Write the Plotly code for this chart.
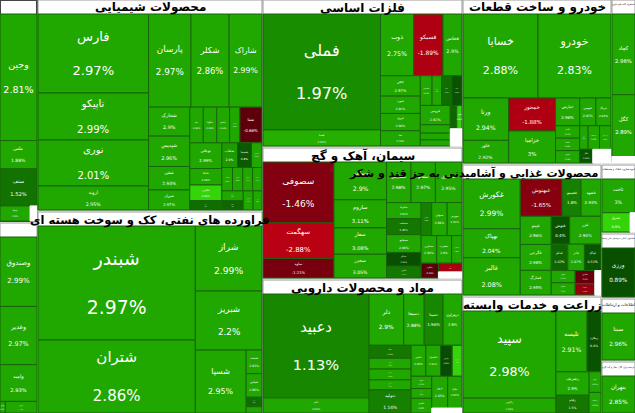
import math
import plotly.graph_objects as go

W, H = 635, 413

# ---------------- data (values ~ cell areas) ----------------
sec_a = "شرکتهای چند رشته ای صنعتی"
a_labels = ["وجین", "ملس", "ستف", "وسپا"]
a_values = [4660, 1040, 1365, 450]
a_pct = [2.81, 1.88, 1.52, 2.90]
a_close = [3.0, 3.0, 1.4, 3.0]
a_gap = 105

sec_b = "سرمایه گذاریها"
b_labels = ["وصندوق", "وغدیر", "وامید", "وبهمن", "ونیکی"]
b_values = [2516, 2109, 1332, 60, 360]
b_pct = [2.99, 2.97, 2.93, 2.95, 2.90]
b_close = [3, 3, 3, 3, 3]
b_gap = 0

sec_c = "محصولات شیمیایی"
c_labels = ["فارس", "تاپیکو", "نوری", "اروند", "پارسان", "شکلر", "شاراک", "شخارک", "شپدیس", "شفن",
            "شیران", "جم", "شگویا", "پاکشو", "شبهرن", "شفا", "بوعلی", "شاملا", "شکربن", "کرماشا",
            "شلعاب", "شسینا", "شپارس", "شصدف", "شدوص", "شرانل", "شزنگ", "شتوکا", "شپاکسا", "شفارس", "شغدیر"]
c_values = [8769, 5217, 5106, 2664, 3960, 3564, 3078, 1197, 1254, 969,
            828, 483, 483, 460, 368, 792, 828, 529, 506, 299,
            391, 345, 260, 250, 240, 230, 220, 210, 200, 190, 170]
c_pct = [2.97, 2.99, 2.01, 2.95, 2.97, 2.86, 2.99, 2.90, 2.96, 2.93,
         2.97, 2.98, 2.99, 2.94, 2.92, -0.66, 2.99, 2.98, 4.95, 1.20,
         2.90, 0.80, 2.91, 2.95, 2.88, 2.97, 2.93, 2.90, 1.10, 2.96, 2.94]
c_close = [3, 3, 3, 3, 3, 3, 3, 3, 3, 3,
           3, 3, 3, 3, 3, -0.6, 3, 3, 4.9, 1.2,
           2.6, 0.6, 3, 3, 3, 3, 3, 3, 1.0, 3, 3]
c_gap = 0

sec_d = "فلزات اساسی"
d_labels = ["فملی", "فسپا", "ذوب", "فسیکو", "فخاس", "فجر", "فنورد", "فروی", "فیبا", "فاسمین",
            "فباهنر", "فالوم", "فلوله", "فروس", "فسرب", "فسازان", "فرآور", "فکاوه", "فخوز"]
d_values = [13455, 1872, 2024, 1794, 1160, 800, 680, 680, 600, 345,
            276, 300, 300, 572, 250, 200, 180, 150, 120]
d_pct = [1.97, 2.91, 2.75, -1.89, 2.90, 2.97, 2.95, 2.96, 2.79, 2.93,
         2.98, 1.05, 0.42, 2.92, 2.90, 2.94, 2.99, 0.97, 4.90]
d_close = [2.2, 3.3, 3, -2.6, 3, 3, 3, 3, 3, 3,
           3, 1.2, 0.4, 3, 3, 3, 3, 1.0, 4.9]
d_gap = 200

sec_e = "سیمان، آهک و گچ"
e_labels = ["سصوفی", "سهگمت", "ساوه", "سباقر", "ساروم", "سفار", "سخزر", "سفارس", "سفانو", "سشرق",
            "سکرما", "سدشت", "سبجنو", "سیدکو", "سکارون", "ستران", "سبهان", "سهرمز", "سمازن", "سغرب",
            "سخاش", "سکرد", "سپاها"]
e_values = [4216, 2448, 1360, 1935, 1440, 1350, 1215, 966, 966, 1050,
            540, 540, 600, 460, 400, 340, 500, 476, 420, 400,
            280, 250, 200]
e_pct = [-1.46, -2.88, -1.21, 2.90, 3.11, 3.08, 3.05, 2.98, 2.97, 2.95,
         2.93, 1.45, 2.96, 0.31, 1.52, 1.88, 2.99, 2.92, 2.94, 2.90,
         2.95, -0.55, -2.41]
e_close = [-1.5, -2.9, -1.2, 3, 3, 3, 3, 3, 3, 3,
           3, 1.5, 3, 0.3, 1.5, 1.8, 3, 3, 3, 3,
           3, -0.5, -2.4]
e_gap = 140

sec_f = "مواد و محصولات دارویی"
f_labels = ["دعبید", "دالبر", "دلر", "دسبحا", "دسینا", "دزهراوی", "دتماد", "دکوثر", "دجابر", "دشیمی",
            "دتولید", "دامین", "دکپسول", "دپارس", "دایران", "داسوه", "دفرا", "دکیمی", "دروز", "دفارا"]
f_values = [10918, 1590, 1760, 1040, 960, 960, 540, 450, 450, 420,
            960, 450, 450, 360, 300, 250, 200, 300, 500, 450]
f_pct = [1.13, 2.94, 2.90, 2.88, 1.96, 2.80, 1.52, 2.95, 2.97, 2.93,
         1.14, 2.96, 2.91, 0.22, 4.96, 2.92, 2.98, 2.90, 2.95, 2.93]
f_close = [2.0, 3, 3, 3, 2.0, 3, 1.5, 3, 3, 3,
           1.8, 3, 3, 0.2, 4.9, 3, 3, 3, 3, 3]
f_gap = 150

sec_g = "فراورده های نفتی، کک و سوخت هسته ای"
g_labels = ["شبندر", "شتران", "شراز", "شبریز", "شسپا", "شنفت", "شپاس", "شرانل", "شاوان"]
g_values = [18012, 11534, 4355, 3953, 3216, 375, 375, 150, 100]
g_pct = [2.97, 2.86, 2.99, 2.2, 2.95, 2.93, 2.96, 1.20, 2.90]
g_close = [3, 3, 3, 3, 3, 3, 3, 1.2, 3]
g_gap = 0

sec_h = "خودرو و ساخت قطعات"
h_labels = ["خسابا", "خودرو", "ورنا", "خاور", "خمحور", "خزامیا", "خپارس", "خبهمن", "خرینگ", "خگستر",
            "خکمک", "خموتور", "خفنر", "خریخت", "خچرخش", "خکار"]
h_values = [6308, 6142, 1935, 1035, 1550, 1500, 672, 448, 420, 300,
            300, 300, 200, 270, 270, 180]
h_pct = [2.88, 2.83, 2.94, 2.92, -1.88, 3.00, 2.96, 2.95, 2.93, 2.97,
         2.94, 2.96, 2.90, 2.98, 2.95, 0.52]
h_close = [3, 3, 3, 3, -2.6, 3, 3, 3, 3, 3,
           3, 3, 3, 3, 3, 0.5]
h_gap = 250

sec_i = "محصولات غذایی و آشامیدنی به جز قند و شکر"
i_labels = ["غکورش", "بهپاک", "غالبر", "غبهنوش", "غصینو", "غشهد", "غپینو", "غگرجی", "غمارگ", "غنوش",
            "غزر", "غدام", "غاذر", "غپاک", "غشان", "غسالم", "غفارس", "غشصفا"]
i_values = [2832, 1652, 2124, 1554, 703, 740, 870, 800, 760, 510,
            870, 435, 435, 435, 290, 290, 260, 220]
i_pct = [2.99, 2.04, 2.08, -1.65, 1.80, 2.93, 2.96, 2.98, 2.95, 0.40,
         2.94, 1.02, 2.97, 0.51, 2.92, 2.90, -0.80, -2.05]
i_close = [3, 3, 3, -1.6, 1.8, 3, 3, 3, 3, 0.4,
           3, 1.0, 3, 0.5, 3, 3, -0.8, -2.0]
i_gap = 150

sec_j = "زراعت و خدمات وابسته"
j_labels = ["سپید", "زاگرس", "تلیسه", "زملارد", "زشریف", "زقیام", "زکوثر", "زدشت"]
j_values = [8272, 1410, 1932, 864, 792, 600, 250, 250]
j_pct = [2.98, 2.93, 2.91, 0.40, 2.90, 1.50, 2.95, 2.92]
j_close = [3, 3, 3, 0.4, 3, 1.5, 3, 3]
j_gap = 0

sec_k = "استخراج کانه های فلزی"
k_labels = ["کچاد", "کگل"]
k_values = [1863, 1426]
k_pct = [2.96, 2.89]
k_close = [3, 3]
k_gap = 150

sec_l = "انبوه سازی، املاک و مستغلات"
l_labels = ["ثاخت", "ثشرق"]
l_values = [1155, 561]
l_pct = [3.00, 4.90]
l_close = [3, 4.9]
l_gap = 100

sec_m = "فعالیتهای کمکی به نهادهای مالی واسط"
m_labels = ["ورزی"]
m_values = [1650]
m_pct = [0.89]
m_close = [0.3]
m_gap = 0

sec_n = "اطلاعات و ارتباطات"
n_labels = ["سینا"]
n_values = [1650]
n_pct = [2.96]
n_close = [3]
n_gap = 0

sec_o = "عرضه برق، گاز، بخار و آب گرم"
o_labels = ["بتهران"]
o_values = [1750]
o_pct = [2.85]
o_close = [3]
o_gap = 0

# ---------------- layout of sector panels (pixel boxes: left, top, right, bottom) ----------------
boxes = {
    "a": (0, 0, 37, 221), "b": (0, 223, 37, 413),
    "c": (38, 0, 262, 210), "g": (38, 212, 262, 413),
    "d": (263, 0, 462, 146), "e": (263, 148, 462, 278), "f": (263, 280, 462, 413),
    "h": (463, 0, 611, 163), "i": (463, 165, 601, 295), "j": (463, 297, 601, 413),
    "k": (612, 0, 635, 163), "l": (602, 165, 635, 232), "m": (602, 234, 635, 297),
    "n": (602, 299, 635, 360), "o": (602, 362, 635, 413),
}
HEAD = 14
# squarify aspect preference per panel (style)
ratios = {"c": 2.3, "d": 2.5, "e": 2.2, "f": 2.5, "j": 2.5}
# title style per panel: "big" = bold overlay title, "small" = plotly header text, "none" = cut off
title_mode = {"a": "none", "b": "none", "k": "small", "l": "small", "m": "small", "n": "small", "o": "small"}
title_anchor = {"i": "right"}
title_size = {"g": 11.5, "i": 11}

sectors = [
    ("a", sec_a, a_labels, a_values, a_pct, a_close, a_gap),
    ("b", sec_b, b_labels, b_values, b_pct, b_close, b_gap),
    ("c", sec_c, c_labels, c_values, c_pct, c_close, c_gap),
    ("g", sec_g, g_labels, g_values, g_pct, g_close, g_gap),
    ("d", sec_d, d_labels, d_values, d_pct, d_close, d_gap),
    ("e", sec_e, e_labels, e_values, e_pct, e_close, e_gap),
    ("f", sec_f, f_labels, f_values, f_pct, f_close, f_gap),
    ("h", sec_h, h_labels, h_values, h_pct, h_close, h_gap),
    ("j", sec_j, j_labels, j_values, j_pct, j_close, j_gap),
    ("i", sec_i, i_labels, i_values, i_pct, i_close, i_gap),
    ("k", sec_k, k_labels, k_values, k_pct, k_close, k_gap),
    ("l", sec_l, l_labels, l_values, l_pct, l_close, l_gap),
    ("m", sec_m, m_labels, m_values, m_pct, m_close, m_gap),
    ("n", sec_n, n_labels, n_values, n_pct, n_close, n_gap),
    ("o", sec_o, o_labels, o_values, o_pct, o_close, o_gap),
]

FONT = "Tahoma, 'DejaVu Sans', sans-serif"
LINE = "#17650b"
ZW = "\u200b"


def cell_color(c):
    if c >= 0:
        if c <= 3:
            t = c / 3.0
            r, g, b = 6 + 27 * t, 70 + 98 * t, 0
        else:
            t = min((c - 3) / 2.0, 1.0)
            r, g, b = 33 + 22 * t, 168 + 47 * t, 10 * t
    else:
        t = min(-c / 3.0, 1.0)
        r, g, b = 70 + 120 * t, 0, 10 + 10 * t
    return f"rgb({int(r)},{int(g)},{int(b)})"


fig = go.Figure()
annotations = []
for key, name, labels, values, pct, close, gap in sectors:
    x0, y0, x1, y1 = boxes[key]
    mode = title_mode.get(key, "big")
    ids = [name] + [name + "/" + l for l in labels]
    lab = [name if mode == "small" else ZW] + list(labels)
    par = [""] + [name] * len(labels)
    val = [0] + list(values)
    colors = ["white"] + [cell_color(c) for c in close]
    text = [f"<b>{name}</b>" if mode == "small" else ZW] + \
           [f"{l}<br><br>{p:g}%" for l, p in zip(labels, pct)]
    tcol = ["black" if mode == "small" else "white"] + ["white"] * len(labels)
    tsize = [13] + [max(4.0, 0.14 * math.sqrt(v)) for v in values]
    lcol = ["#9a9a9a"] + [LINE] * len(labels)
    if gap:
        ids.append(name + "/_gap")
        lab.append(ZW)
        par.append(name)
        val.append(gap)
        colors.append("white")
        text.append(ZW)
        tcol.append("white")
        tsize.append(4)
        lcol.append("white")
    fig.add_trace(go.Treemap(
        ids=ids, labels=lab, parents=par, values=val,
        branchvalues="remainder", sort=False,
        text=text, texttemplate="%{text}", textposition="middle center",
        textfont=dict(family=FONT, color=tcol, size=tsize),
        marker=dict(colors=colors, line=dict(color=lcol, width=1),
                    pad=dict(t=HEAD, l=0, r=0, b=0), depthfade=False),
        tiling=dict(packing="squarify", squarifyratio=ratios.get(key, 1.618), pad=0),
        pathbar=dict(visible=False),
        hoverinfo="skip",
        domain=dict(x=[x0 / W, x1 / W], y=[1 - y1 / H, 1 - y0 / H]),
    ))
    if mode == "big":
        anchor = title_anchor.get(key, "center")
        ax = (x1 - 1) / W if anchor == "right" else (x0 + x1) / 2 / W
        annotations.append(dict(
            text=f"<b>{name}</b>", xref="paper", yref="paper",
            x=ax, y=1 - (y0 + HEAD / 2 + 1) / H,
            xanchor=anchor, yanchor="middle", showarrow=False,
            font=dict(family=FONT, size=title_size.get(key, 12), color="black"),
        ))

fig.update_layout(width=W, height=H, margin=dict(l=0, r=0, t=0, b=0),
                  paper_bgcolor="white", showlegend=False, annotations=annotations)
fig.write_html("out.html")
